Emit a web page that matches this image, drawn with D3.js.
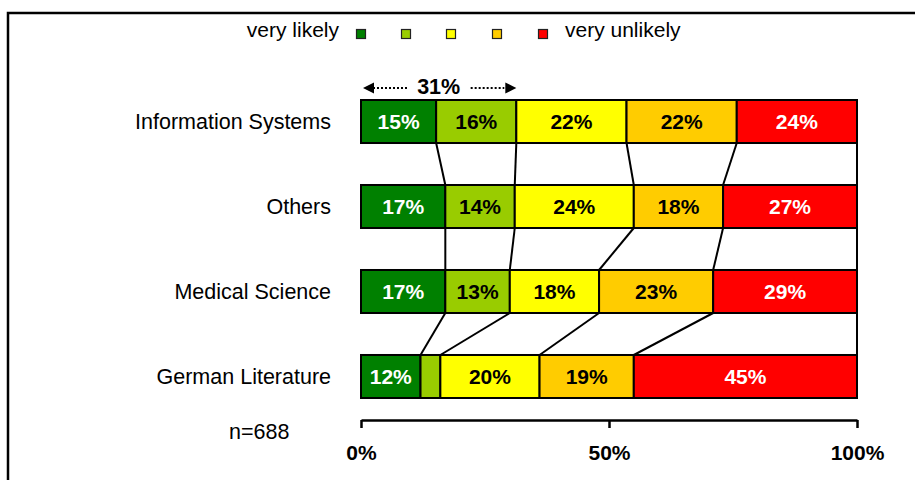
<!DOCTYPE html>
<html>
<head>
<meta charset="utf-8">
<script src="https://cdn.jsdelivr.net/npm/d3@7"></script>
<style>
  body { margin: 0; background: #fff; }
  svg { display: block; font-family: "Liberation Sans", Arial, sans-serif; }
</style>
</head>
<body>
<svg id="chart" width="915" height="480"></svg>
<script>
// Survey answers, top to bottom
const categories = ["Information Systems", "Others", "Medical Science", "German Literature"];
const levels = ["very likely", "likely", "neutral", "unlikely", "very unlikely"];
const colors = ["#008000", "#99cc00", "#ffff00", "#ffcc00", "#ff0000"];
const textColors = ["#ffffff", "#000000", "#000000", "#000000", "#ffffff"];

// percentages per level, one array per category
const infoSystems = [15, 16, 22, 22, 24];
const others = [17, 14, 24, 18, 27];
const medicalScience = [17, 13, 18, 23, 29];
const germanLiterature = [12, 4, 20, 19, 45];
const values = [infoSystems, others, medicalScience, germanLiterature];

const tickValues = [0, 50, 100];
const sampleNote = "n=688";

const svg = d3.select("#chart");

// outer frame
svg.append("rect")
  .attr("x", 8).attr("y", 13).attr("width", 1000).attr("height", 1000)
  .attr("fill", "none").attr("stroke", "#000").attr("stroke-width", 2.5);

const x = d3.scaleLinear().domain([0, 100]).range([361, 857]);
const y = d3.scaleBand().domain(categories).range([100, 398]).paddingInner(0.494).paddingOuter(0);
const bw = y.bandwidth();

// stacked rows, normalised so every row fills 0–100%
const rows = categories.map((c, i) => {
  const vals = values[i];
  const total = d3.sum(vals);
  let acc = 0;
  const segs = vals.map((v, k) => {
    const s = { cat: c, k, v, x0: acc / total * 100 };
    acc += v;
    s.x1 = acc / total * 100;
    return s;
  });
  return { cat: c, segs };
});

// connector lines between consecutive rows at each segment boundary
const connectors = [];
for (let i = 0; i < rows.length - 1; i++) {
  for (let k = 0; k < levels.length; k++) {
    connectors.push({
      xa: rows[i].segs[k].x1, ya: y(rows[i].cat) + bw,
      xb: rows[i + 1].segs[k].x1, yb: y(rows[i + 1].cat)
    });
  }
}
svg.append("g").selectAll("line").data(connectors).join("line")
  .attr("x1", d => x(d.xa)).attr("y1", d => d.ya)
  .attr("x2", d => x(d.xb)).attr("y2", d => d.yb)
  .attr("stroke", "#000").attr("stroke-width", 2);

// bars
const rowG = svg.append("g").selectAll("g").data(rows).join("g")
  .attr("transform", d => `translate(0,${y(d.cat)})`);

rowG.selectAll("rect").data(d => d.segs).join("rect")
  .attr("x", d => x(d.x0)).attr("y", 0)
  .attr("width", d => x(d.x1) - x(d.x0)).attr("height", bw)
  .attr("fill", d => colors[d.k])
  .attr("stroke", "#000").attr("stroke-width", 2);

rowG.selectAll("text.val").data(d => d.segs.filter(s => s.v >= 8)).join("text")
  .attr("class", "val")
  .attr("x", d => (x(d.x0) + x(d.x1)) / 2)
  .attr("y", bw / 2 + 7.5)
  .attr("text-anchor", "middle")
  .attr("font-size", 21).attr("font-weight", "bold")
  .attr("fill", d => textColors[d.k])
  .text(d => d.v + "%");

// category labels
svg.append("g").selectAll("text").data(categories).join("text")
  .attr("x", 331).attr("y", d => y(d) + bw / 2 + 7.5)
  .attr("text-anchor", "end").attr("font-size", 21.5).attr("fill", "#000")
  .text(d => d);

// x axis
const axis = svg.append("g").attr("transform", "translate(0,420)")
  .call(d3.axisBottom(x).tickValues(tickValues).tickSize(8).tickSizeOuter(0)
    .tickPadding(17).tickFormat(d => d + "%"));
axis.select(".domain").attr("stroke", "#000").attr("stroke-width", 2.5);
axis.selectAll(".tick line").attr("stroke", "#000").attr("stroke-width", 2.5);
axis.selectAll(".tick text").attr("font-size", 21).attr("font-weight", "bold")
  .attr("font-family", "Liberation Sans, Arial, sans-serif").attr("fill", "#000");

svg.append("text").attr("x", 229).attr("y", 439)
  .attr("font-size", 21.5).attr("fill", "#000").text(sampleNote);

// legend
const legendY = 34;
const legendX = [361, 406, 451, 497, 543];
svg.append("g").selectAll("rect").data(levels).join("rect")
  .attr("x", (d, i) => legendX[i] - 4.5).attr("y", legendY - 4.5)
  .attr("width", 9).attr("height", 9)
  .attr("fill", (d, i) => colors[i]).attr("stroke", "#222").attr("stroke-width", 1.2);
svg.append("text").attr("x", 339).attr("y", 37).attr("text-anchor", "end")
  .attr("font-size", 21).text(levels[0]);
svg.append("text").attr("x", 565).attr("y", 37).attr("text-anchor", "start")
  .attr("font-size", 21).text(levels[4]);

// bracket showing the combined share of the two "likely" answers in the top row
const firstSegs = rows[0].segs;
const share = firstSegs[0].v + firstSegs[1].v;
const ax0 = x(0), ax1 = x(firstSegs[1].x1), ay = 88;
const amid = (ax0 + ax1) / 2;
const ann = svg.append("g");
ann.append("text").attr("x", amid).attr("y", 94).attr("text-anchor", "middle")
  .attr("font-size", 21.5).attr("font-weight", "bold").text(share + "%");
ann.selectAll("line").data([[ax0 + 12, amid - 30], [amid + 32, ax1 - 12]]).join("line")
  .attr("x1", d => d[0]).attr("x2", d => d[1]).attr("y1", ay).attr("y2", ay)
  .attr("stroke", "#000").attr("stroke-width", 2).attr("stroke-dasharray", "2,2");
ann.append("path")
  .attr("d", `M${ax0 + 2},${ay} L${ax0 + 13},${ay - 5.5} L${ax0 + 13},${ay + 5.5} Z`)
  .attr("fill", "#000");
ann.append("path")
  .attr("d", `M${ax1},${ay} L${ax1 - 11},${ay - 5.5} L${ax1 - 11},${ay + 5.5} Z`)
  .attr("fill", "#000");
</script>
</body>
</html>
